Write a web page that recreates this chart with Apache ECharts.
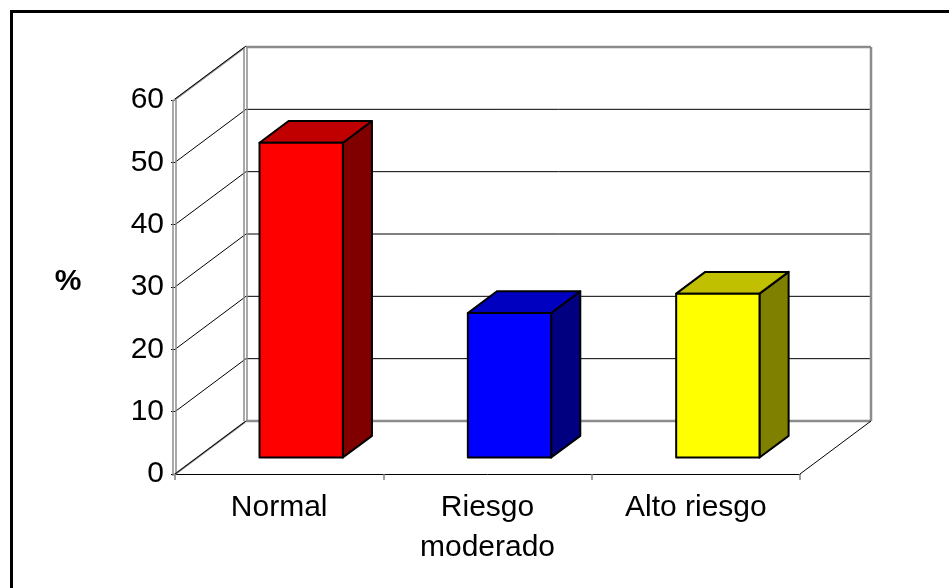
<!DOCTYPE html>
<html>
<head>
<meta charset="utf-8">
<script src="https://cdn.jsdelivr.net/npm/echarts@6/dist/echarts.min.js"></script>
<style>
  html, body { margin: 0; padding: 0; background: #fff; }
  #chart { width: 949px; height: 588px; }
</style>
</head>
<body>
<div id="chart"></div>
<script>
// Categories and percentages
const categories = ['Normal', 'Riesgo\nmoderado', 'Alto riesgo'];
const values = [50.5, 23.2, 26.3];
const yTicks = [0, 10, 20, 30, 40, 50, 60];

// Face colours per bar: front, top, side
const frontColors = ['#FF0000', '#0000FF', '#FFFF00'];
const topColors = ['#C00000', '#0000C0', '#C0C000'];
const sideColors = ['#800000', '#000080', '#808000'];

// Oblique depth of the 3D box (pixels) and where the bars sit inside it
const DEPTH = [71, -53];
const BAR_FRONT = 0.31;
const BAR_BACK = 0.72;
const BAR_WIDTH = 0.4;

const FONT = '"Liberation Sans", Arial, sans-serif';
const chart = echarts.init(document.getElementById('chart'));

function line(x1, y1, x2, y2, color, width) {
  return {
    type: 'line',
    shape: { x1, y1, x2, y2 },
    style: { stroke: color, lineWidth: width },
    silent: true
  };
}

// Walls, floor and gridlines of the 3D frame
function renderFrame(params, api) {
  const cs = params.coordSys;
  const x0 = cs.x, x1 = cs.x + cs.width;
  const dx = DEPTH[0], dy = DEPTH[1];
  const children = [];
  const yFloor = api.coord([0, 0])[1];
  const yTop = api.coord([0, yTicks[yTicks.length - 1]])[1];

  yTicks.forEach(function (v, i) {
    const y = api.coord([0, v])[1];
    if (i > 0 && i < yTicks.length - 1) {
      children.push(line(x0 + dx, y + dy, x1 + dx, y + dy, '#000', 1));
      children.push(line(x0, y, x0 + dx, y + dy, '#000', 1));
    }
  });

  const gray = '#8c8c8c';
  // back wall outline
  children.push(line(x0 + dx, yTop + dy, x1 + dx, yTop + dy, gray, 2.5));
  children.push(line(x1 + dx, yTop + dy, x1 + dx, yFloor + dy, gray, 2.5));
  children.push(line(x0 + dx, yFloor + dy, x1 + dx, yFloor + dy, gray, 2.5));
  // left wall edges (double lines)
  children.push(line(x0 - 2, yTop, x0 - 2, yFloor + 2, gray, 1.5));
  children.push(line(x0 + 1, yTop, x0 + 1, yFloor, gray, 1.5));
  children.push(line(x0 + dx - 2, yTop + dy, x0 + dx - 2, yFloor + dy, gray, 1.5));
  children.push(line(x0 + dx + 1, yTop + dy, x0 + dx + 1, yFloor + dy, gray, 1.5));
  children.push(line(x0 - 2, yTop + 1, x0 + dx - 2, yTop + dy + 1, gray, 2));
  children.push(line(x0, yTop - 1, x0 + dx, yTop + dy - 1, '#000', 1));
  children.push(line(x0 - 1, yFloor + 1, x0 + dx - 1, yFloor + dy + 1, gray, 2));
  children.push(line(x0, yFloor, x0 + dx, yFloor + dy, '#000', 1));
  // right floor edge
  children.push(line(x1, yFloor, x1 + dx, yFloor + dy, '#000', 1));

  return { type: 'group', children: children };
}

// Box-shaped bars
function renderBar(params, api) {
  const idx = api.value(0);
  const val = api.value(1);
  const base = api.coord([idx, 0]);
  const top = api.coord([idx, val]);
  const w = api.size([1, 0])[0] * BAR_WIDTH;
  const ox = DEPTH[0] * BAR_FRONT, oy = DEPTH[1] * BAR_FRONT;
  const bx = DEPTH[0] * (BAR_BACK - BAR_FRONT), by = DEPTH[1] * (BAR_BACK - BAR_FRONT);
  const l = base[0] + ox - w / 2, r = base[0] + ox + w / 2;
  const t = top[1] + oy, b = base[1] + oy;
  const stroke = { stroke: '#000', lineWidth: 2, lineJoin: 'round' };
  return {
    type: 'group',
    children: [
      { type: 'polygon', shape: { points: [[r, t], [r + bx, t + by], [r + bx, b + by], [r, b]] },
        style: Object.assign({ fill: sideColors[idx] }, stroke) },
      { type: 'polygon', shape: { points: [[l, t], [r, t], [r + bx, t + by], [l + bx, t + by]] },
        style: Object.assign({ fill: topColors[idx] }, stroke) },
      { type: 'rect', shape: { x: l, y: t, width: r - l, height: b - t },
        style: Object.assign({ fill: frontColors[idx] }, stroke) }
    ]
  };
}

chart.setOption({
  animation: false,
  backgroundColor: '#fff',
  grid: { left: 175, top: 100, width: 625, height: 374, containLabel: false },
  xAxis: {
    type: 'category',
    data: categories,
    boundaryGap: true,
    axisLine: { show: true, lineStyle: { color: '#000', width: 1 } },
    axisTick: { show: true, length: 6, lineStyle: { color: '#808080', width: 1.5 } },
    axisLabel: { color: '#000', fontFamily: FONT, fontSize: 30, margin: 14, lineHeight: 40 },
    splitLine: { show: false }
  },
  yAxis: {
    type: 'value',
    min: 0, max: 60, interval: 10,
    axisLine: { show: false },
    axisTick: { show: true, length: 4, lineStyle: { color: '#000', width: 1 } },
    axisLabel: { color: '#000', fontFamily: FONT, fontSize: 30, margin: 11 },
    splitLine: { show: false }
  },
  graphic: [
    { type: 'rect', shape: { x: 11.5, y: 11.5, width: 980, height: 620 },
      style: { fill: 'none', stroke: '#000', lineWidth: 3 }, z: 100 },
    { type: 'text', x: 68, y: 282,
      style: { text: '%', font: 'bold 30px ' + FONT, fill: '#000', align: 'center', verticalAlign: 'middle' } }
  ],
  series: [
    { type: 'custom', renderItem: renderFrame, data: [[0, 0]], clip: false, silent: true, z: 1 },
    { type: 'custom', renderItem: renderBar, data: values.map(function (v, i) { return [i, v]; }),
      clip: false, z: 2, encode: { x: 0, y: 1 } }
  ]
});
</script>
</body>
</html>
